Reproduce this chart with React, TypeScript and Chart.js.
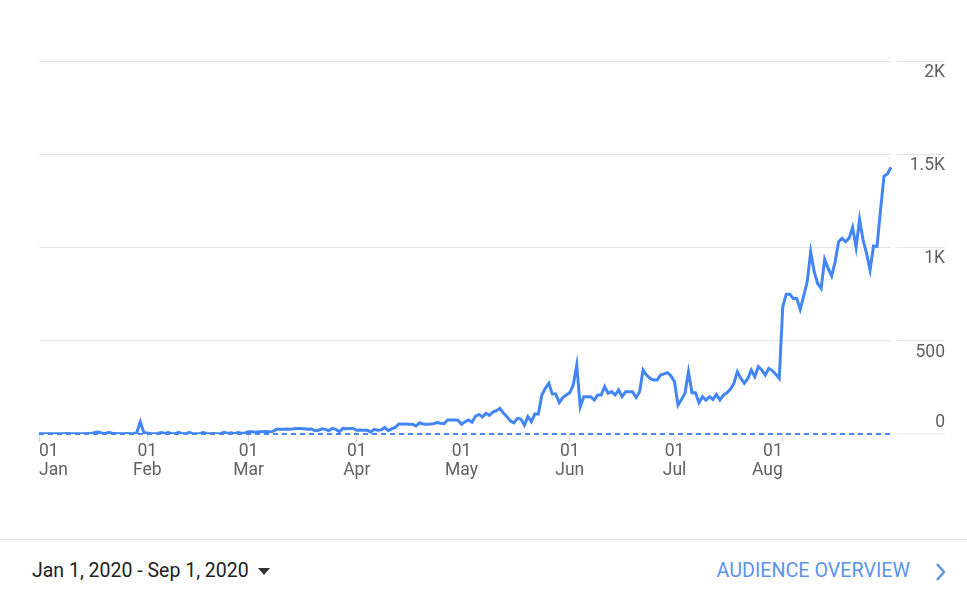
import React, { useEffect, useRef } from "react";
import { Chart, registerables } from "chart.js";

Chart.register(...registerables);

// Daily users, Jan 1 2020 .. Sep 1 2020
const janValues = [2, 2, 1, 2, 2, 1, 2, 2, 3, 2, 2, 1, 2, 2, 3, 2, 8, 10, 4, 3, 9, 4, 3, 2, 2, 3, 2, 3, 5, 65, 8];
const febValues = [5, 3, 2, 3, 8, 3, 8, 2, 3, 8, 3, 2, 8, 3, 2, 2, 8, 3, 2, 3, 2, 3, 9, 3, 7, 2, 8, 4, 6];
const marValues = [12, 12, 10, 12, 12, 14, 12, 14, 25, 26, 26, 27, 26, 28, 30, 30, 28, 26, 27, 18, 20, 28, 25, 18, 30, 25, 12, 30, 28, 30, 30];
const aprValues = [20, 22, 20, 20, 10, 25, 20, 22, 35, 18, 27, 35, 53, 53, 53, 52, 52, 43, 60, 53, 52, 53, 55, 62, 58, 55, 75, 75, 75, 74];
const mayValues = [52, 65, 75, 63, 95, 105, 91, 111, 100, 118, 125, 138, 112, 93, 70, 60, 84, 80, 48, 93, 66, 107, 107, 209, 245, 272, 214, 214, 168, 195, 209];
const junValues = [221, 263, 370, 146, 200, 200, 200, 182, 209, 209, 254, 218, 227, 209, 236, 200, 227, 227, 227, 196, 227, 343, 316, 298, 289, 289, 316, 322, 329, 311];
const julValues = [280, 155, 185, 218, 334, 221, 221, 168, 200, 182, 200, 185, 212, 182, 209, 221, 240, 272, 334, 298, 272, 298, 343, 307, 361, 343, 316, 352, 340, 320, 298];
const augValues = [682, 750, 750, 727, 727, 668, 740, 816, 977, 870, 807, 781, 936, 888, 847, 923, 1031, 1049, 1031, 1050, 1108, 1001, 1151, 1040, 968, 879, 1008, 1006, 1200, 1383, 1394];
const sepValues = [1430];

const monthNames = ["Jan", "Feb", "Mar", "Apr", "May", "Jun", "Jul", "Aug", "Sep"];
const monthSeries = [janValues, febValues, marValues, aprValues, mayValues, junValues, julValues, augValues, sepValues];
const tickMonths = ["Jan", "Feb", "Mar", "Apr", "May", "Jun", "Jul", "Aug"];
const yTickLabels: Record<number, string> = { 0: "0", 500: "500", 1000: "1K", 1500: "1.5K", 2000: "2K" };

const dates: { m: string; d: number }[] = [];
const values: number[] = [];
monthSeries.forEach((arr, mi) => {
  arr.forEach((v, di) => {
    dates.push({ m: monthNames[mi], d: di + 1 });
    values.push(v);
  });
});
const categories = dates.map((x) => `${x.m} ${x.d}`);
const monthStartIdx = dates
  .map((x, i) => (x.d === 1 && tickMonths.includes(x.m) ? i : -1))
  .filter((i) => i >= 0);

export default function App() {
  const ref = useRef<HTMLCanvasElement | null>(null);
  useEffect(() => {
    if (!ref.current) return;
    const chart = new Chart(ref.current, {
      type: "line",
      data: {
        labels: categories,
        datasets: [
          {
            data: values,
            borderColor: "#4285f4",
            borderWidth: 3,
            pointRadius: 0,
            tension: 0,
            fill: false,
          },
        ],
      },
      options: {
        animation: false,
        responsive: true,
        maintainAspectRatio: false,
        layout: { padding: { left: 39, right: 22, top: 61, bottom: 0 } },
        plugins: { legend: { display: false }, tooltip: { enabled: false } },
        events: [],
        scales: {
          x: {
            type: "category",
            offset: false,
            afterBuildTicks: (axis: any) => {
              axis.ticks = axis.ticks.filter((t: any) => monthStartIdx.includes(t.value));
            },
            afterFit: (axis: any) => {
              axis.height = 66;
            },
            grid: {
              display: true,
              drawOnChartArea: false,
              drawTicks: true,
              tickLength: 8,
              tickColor: "#dcdcdc",
              tickWidth: 1.5,
            },
            border: { display: false },
            ticks: {
              autoSkip: false,
              maxRotation: 0,
              minRotation: 0,
              align: "inner",
              padding: 0,
              color: "#616161",
              font: { family: "Roboto", size: 17.5, lineHeight: 1.1 },
              callback: (value: any) => {
                const d = dates[value as number];
                return ["01", d.m];
              },
            },
          },
          y: {
            position: "right",
            min: 0,
            max: 2000,
            afterFit: (axis: any) => {
              axis.width = 54;
            },
            afterBuildTicks: (axis: any) => {
              axis.ticks = [0, 500, 1000, 1500, 2000].map((v) => ({ value: v }));
            },
            grid: {
              drawOnChartArea: true,
              drawTicks: true,
              tickLength: 54,
              tickColor: "#e6e6e6",
              tickWidth: 1,
              tickBorderDash: [0, 6, 200, 0],
              color: (ctx: any) => (ctx.tick && ctx.tick.value === 0 ? "#4a86ec" : "#e6e6e6"),
              lineWidth: (ctx: any) => (ctx.tick && ctx.tick.value === 0 ? 2 : 1),
            },
            border: {
              display: false,
              dash: (ctx: any) => (ctx.tick && ctx.tick.value === 0 ? [5, 4] : []),
            },
            ticks: {
              crossAlign: "far",
              padding: -37,
              color: "#616161",
              font: { family: "Roboto", size: 17.5, lineHeight: 1.3 },
              callback: (value: any) => {
                const t = yTickLabels[value as number];
                return value === 0 ? [t, ""] : ["", t];
              },
            },
          },
        },
      },
    } as any);
    return () => chart.destroy();
  }, []);

  return (
    <div
      style={{
        position: "absolute",
        left: 0,
        top: 0,
        width: 967,
        height: 591,
        background: "#fff",
        fontFamily: "Roboto, sans-serif",
        overflow: "hidden",
      }}
    >
      <div style={{ position: "absolute", left: 0, top: 0, width: 967, height: 500 }}>
        <canvas ref={ref} />
      </div>
      <div style={{ position: "absolute", left: 0, top: 539, width: 967, height: 1, background: "#e0e0e0" }} />
      <div
        style={{
          position: "absolute",
          left: 32,
          top: 559,
          fontSize: 19.5,
          lineHeight: "24px",
          color: "#212121",
          whiteSpace: "nowrap",
        }}
      >
        Jan 1, 2020 - Sep 1, 2020
      </div>
      <div
        style={{
          position: "absolute",
          left: 258,
          top: 568,
          width: 0,
          height: 0,
          borderLeft: "6px solid transparent",
          borderRight: "6px solid transparent",
          borderTop: "7px solid #333",
        }}
      />
      <div
        style={{
          position: "absolute",
          right: 57,
          top: 559,
          fontSize: 19.7,
          lineHeight: "24px",
          color: "#5a93ec",
          whiteSpace: "nowrap",
        }}
      >
        AUDIENCE OVERVIEW
      </div>
      <svg style={{ position: "absolute", left: 933, top: 561 }} width={14} height={22}>
        <polyline points="4,3 11,11 4,19" fill="none" stroke="#5a93ec" strokeWidth={2.4} />
      </svg>
    </div>
  );
}
